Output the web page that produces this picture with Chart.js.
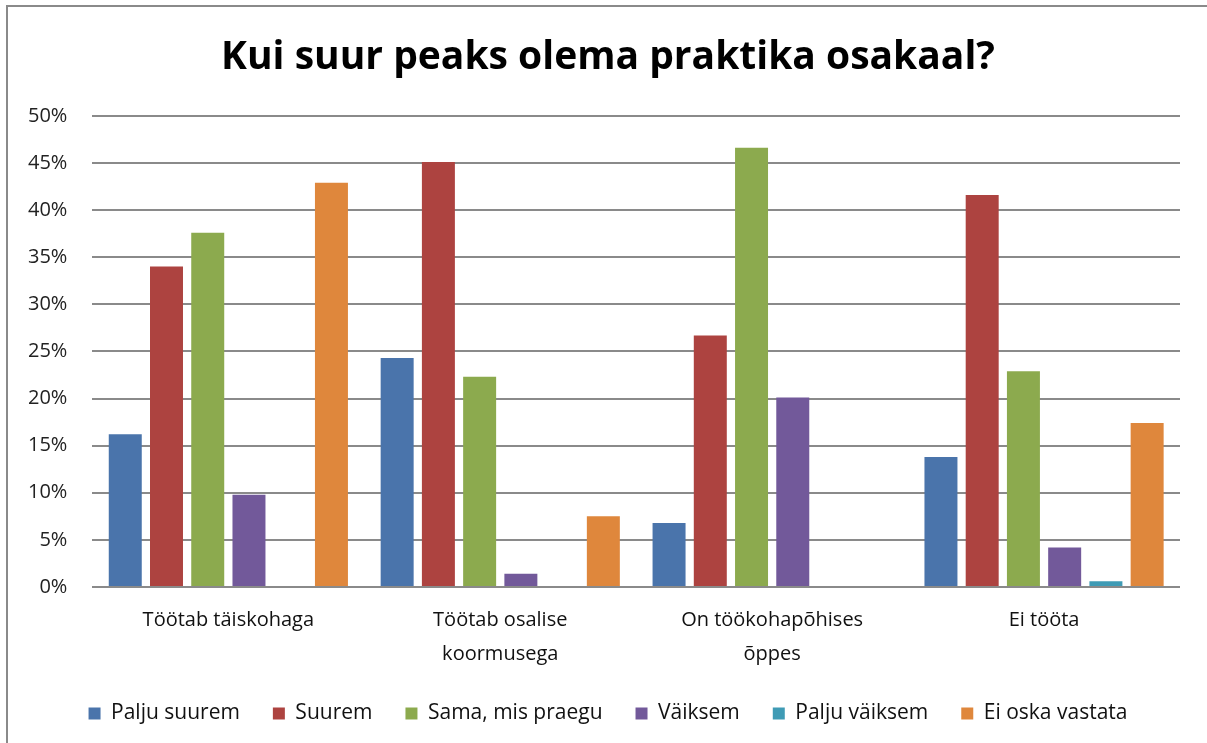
<!DOCTYPE html>
<html>
<head>
<meta charset="utf-8">
<script src="https://cdn.jsdelivr.net/npm/chart.js@4.4.1/dist/chart.umd.min.js"></script>
<style>
  html, body { margin: 0; padding: 0; background: #fff; }
  #wrap { position: relative; width: 1207px; height: 743px; }
  #frame { position: absolute; left: 6px; top: 5px; right: 0; bottom: 0;
           border-left: 2px solid #8a8a8a; border-top: 2px solid #8a8a8a; }
  canvas { position: absolute; left: 0; top: 0; }
</style>
</head>
<body>
<div id="wrap">
  <div id="frame"></div>
  <canvas id="chart" width="1207" height="743"></canvas>
</div>
<script>
// categories (x axis)
var categories = ["Töötab täiskohaga", ["Töötab osalise", "koormusega"], ["On töökohapõhises", "õppes"], "Ei tööta"];

// answer series, values in %
var seriesNames = ["Palju suurem", "Suurem", "Sama, mis praegu", "Väiksem", "Palju väiksem", "Ei oska vastata"];
var paljuSuurem   = [16.2, 24.3, 6.8, 13.8];
var suurem        = [34.0, 45.1, 26.7, 41.6];
var samaMisPraegu = [37.6, 22.3, 46.6, 22.9];
var vaiksem       = [9.8, 1.4, 20.1, 4.2];
var paljuVaiksem  = [0, 0, 0, 0.6];
var eiOskaVastata = [42.9, 7.5, 0, 17.4];

var seriesColors = ["#4a74ab", "#ad4340", "#8caa4e", "#72599a", "#3f9bb5", "#df873c"];
var yTicks = [0, 5, 10, 15, 20, 25, 30, 35, 40, 45, 50];

var allValues = [paljuSuurem, suurem, samaMisPraegu, vaiksem, paljuVaiksem, eiOskaVastata];
var datasets = seriesNames.map(function(name, i) {
    return {
        label: name,
        data: allValues[i],
        backgroundColor: seriesColors[i],
        borderWidth: 0,
        barPercentage: 0.8,
        categoryPercentage: 0.91
    };
});

var font = "'Open Sans', Lato, sans-serif";

// axis boxes are squeezed a bit, so widen their label clip areas again
var unclipLabels = {
    id: "unclipLabels",
    afterLayout: function(chart) {
        chart.scales.y.left = 0;
        chart.scales.x.bottom = chart.height;
    }
};

new Chart(document.getElementById("chart"), {
    type: "bar",
    data: { labels: categories, datasets: datasets },
    plugins: [unclipLabels],
    options: {
        responsive: false,
        animation: false,
        layout: { padding: { top: 28, left: 36, right: 27, bottom: 9 } },
        plugins: {
            title: {
                display: true,
                text: "Kui suur peaks olema praktika osakaal?",
                color: "#000",
                font: { family: font, size: 39, weight: "bold", lineHeight: 1.2 },
                padding: { top: 6, bottom: 35 }
            },
            legend: {
                position: "bottom",
                labels: {
                    color: "#111",
                    font: { family: font, size: 21 },
                    boxWidth: 12,
                    boxHeight: 12,
                    padding: 33
                }
            },
            tooltip: { enabled: false }
        },
        scales: {
            x: {
                grid: { display: false, drawTicks: false },
                border: { display: false },
                ticks: {
                    color: "#111",
                    font: { family: font, size: 20, lineHeight: 1.7 },
                    padding: 16,
                    maxRotation: 0
                },
                afterFit: function(axis) { axis.height -= 17; }
            },
            y: {
                min: 0,
                max: 50,
                afterBuildTicks: function(axis) {
                    axis.ticks = yTicks.map(function(v) { return { value: v }; });
                },
                afterFit: function(axis) { axis.width -= 33; },
                grid: { color: "#8a8a8a", lineWidth: 2, drawTicks: false },
                border: { display: false },
                ticks: {
                    color: "#222",
                    font: { family: font, size: 20 },
                    padding: 25,
                    callback: function(v) { return v + "%"; }
                }
            }
        }
    }
});
</script>
</body>
</html>
